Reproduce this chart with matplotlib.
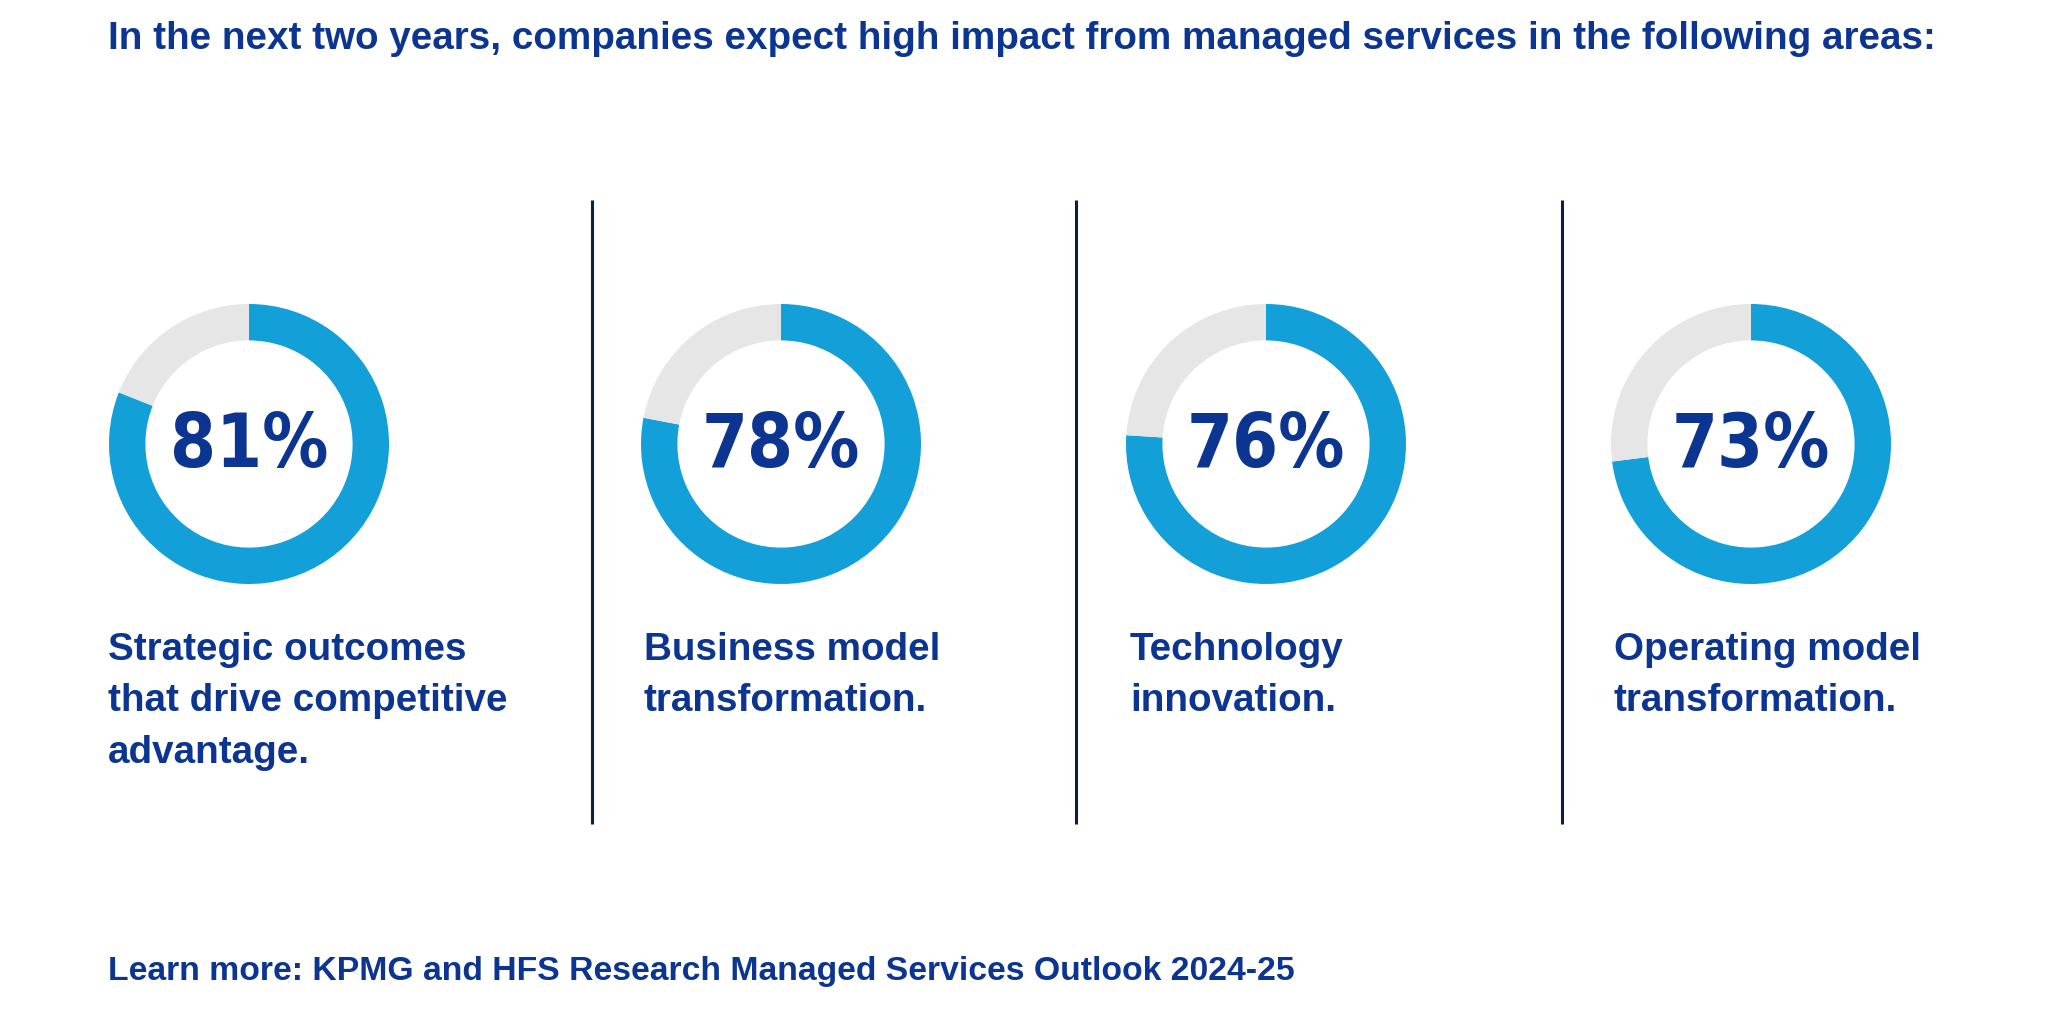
import matplotlib
matplotlib.use("Agg")
import matplotlib.pyplot as plt

# data
values = [81, 78, 76, 73]
labels = ["Strategic outcomes\nthat drive competitive\nadvantage.",
          "Business model\ntransformation.",
          "Technology\ninnovation.",
          "Operating model\ntransformation."]
title = "In the next two years, companies expect high impact from managed services in the following areas:"
footer = "Learn more: KPMG and HFS Research Managed Services Outlook 2024-25"

W, H = 2048, 1012
blue = "#139fd8"
grey = "#e6e6e6"
navy = "#0b3590"
wide = ["Liberation Sans", "DejaVu Sans"]

fig = plt.figure(figsize=(W / 100, H / 100), dpi=100)
fig.patch.set_facecolor("white")

bg = fig.add_axes([0, 0, 1, 1])
bg.set_xlim(0, W)
bg.set_ylim(H, 0)
bg.axis("off")

centers = [249, 781, 1266, 1751]
cy, r = 445, 140
label_x = [108, 644, 1130, 1614]

for i, v in enumerate(values):
    cx = centers[i]
    ax = fig.add_axes([(cx - r) / W, (H - cy - r) / H, 2 * r / W, 2 * r / H])
    ax.pie([v, 100 - v], colors=[blue, grey], startangle=90, counterclock=False,
           radius=1, wedgeprops=dict(width=0.26, edgecolor="none"))
    ax.set_xlim(-1, 1)
    ax.set_ylim(-1, 1)
    ax.set_aspect("equal")
    ax.text(0, -0.01, f"{v}%", ha="center", va="center", color=navy,
            fontsize=53, fontweight="bold", family="DejaVu Sans",
            fontstretch="condensed")
    bg.text(label_x[i], 632, labels[i], ha="left", va="top", color=navy,
            fontsize=27.8, fontweight="bold", family=wide, linespacing=1.55)

for x in [592, 1076, 1562]:
    bg.plot([x, x], [201, 825], color="#0d1f40", lw=2.2, solid_capstyle="butt")

bg.text(108, 39, title, ha="left", va="center", color=navy, fontsize=27.8,
        fontweight="bold", family=wide)
bg.text(108, 972, footer, ha="left", va="center", color=navy, fontsize=24.3,
        fontweight="bold", family=wide)

fig.savefig("out.png", dpi=100, facecolor="white")
